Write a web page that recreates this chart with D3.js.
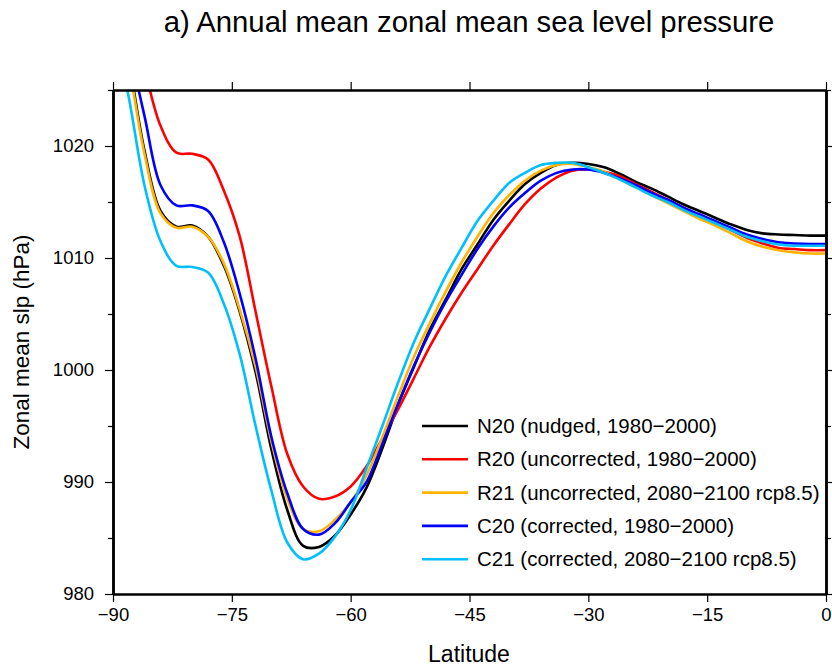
<!DOCTYPE html>
<html>
<head>
<meta charset="utf-8">
<script src="https://cdn.jsdelivr.net/npm/d3@7"></script>
<style>
  body { margin: 0; background: #fff; }
  text { font-family: "Liberation Sans", Arial, Helvetica, sans-serif; fill: #000; }
</style>
</head>
<body>
<svg id="chart" width="832" height="668"></svg>
<script>
// latitude grid (degrees)
var lats = d3.range(-90, 1, 2);

// zonal mean slp (hPa) per run
var n20 = [1034, 1027.5, 1019.5, 1014.2, 1012.8, 1012.9, 1011.9, 1009.3, 1005.2, 999.8,
  992.9, 987.5, 984.3, 984.2, 985.2, 987.1, 989.5, 993.0, 996.9, 1000.3,
  1003.6, 1006.3, 1009.0, 1011.2, 1013.4, 1015.1, 1016.6, 1017.6, 1018.3, 1018.5,
  1018.4, 1018.1, 1017.5, 1016.8, 1016.2, 1015.5, 1014.8, 1014.2, 1013.6, 1013.0,
  1012.5, 1012.2, 1012.1, 1012.05, 1012.0, 1012.0];
var r20 = [1040, 1032, 1026.8, 1021.8, 1019.4, 1019.3, 1018.8, 1016.0, 1011.9, 1005.2,
  998.5, 992.5, 989.6, 988.5, 988.7, 989.6, 991.4, 993.9, 996.5, 999.3,
  1002.1, 1004.6, 1006.9, 1009.0, 1011.1, 1013.0, 1014.8, 1016.2, 1017.2, 1017.8,
  1017.9, 1017.7, 1017.3, 1016.6, 1015.9, 1015.2, 1014.5, 1013.8, 1013.2, 1012.5,
  1011.8, 1011.3, 1010.9, 1010.8, 1010.7, 1010.7];
var r21 = [1034, 1027.2, 1019.2, 1014.0, 1012.7, 1012.8, 1011.9, 1009.5, 1005.4, 1000.3,
  993.6, 988.5, 985.8, 985.6, 986.6, 988.2, 990.6, 994.0, 997.7, 1001.2,
  1004.2, 1007.0, 1009.6, 1011.9, 1014.0, 1015.6, 1016.9, 1017.8, 1018.3, 1018.4,
  1018.1, 1017.7, 1017.0, 1016.3, 1015.6, 1014.9, 1014.2, 1013.5, 1012.9, 1012.2,
  1011.5, 1011.0, 1010.7, 1010.5, 1010.4, 1010.4];
var c20 = [1036, 1029, 1022.6, 1016.5, 1014.7, 1014.7, 1014.2, 1011.4, 1006.8, 1001.0,
  994.0, 989.0, 985.8, 985.3, 986.3, 988.2, 990.0, 993.4, 997.0, 1000.4,
  1003.4, 1006.1, 1008.5, 1010.8, 1012.8, 1014.5, 1015.8, 1016.9, 1017.6, 1017.9,
  1017.9, 1017.6, 1017.1, 1016.5, 1015.8, 1015.2, 1014.5, 1013.9, 1013.3, 1012.7,
  1012.1, 1011.7, 1011.4, 1011.3, 1011.25, 1011.25];
var c21 = [1031, 1024.3, 1016.4, 1011.5, 1009.3, 1009.2, 1008.7, 1005.9, 1001.4, 995.0,
  989.2, 984.6, 983.1, 983.6, 985.1, 987.5, 991.2, 995.0, 998.9, 1002.5,
  1005.5, 1008.4, 1010.9, 1013.3, 1015.1, 1016.7, 1017.6, 1018.3, 1018.5, 1018.5,
  1018.1, 1017.6, 1017.0, 1016.3, 1015.6, 1015.0, 1014.3, 1013.7, 1013.1, 1012.5,
  1011.9, 1011.5, 1011.2, 1011.1, 1011.1, 1011.1];

var seriesNames = ["N20 (nudged, 1980\u22122000)", "R20 (uncorrected, 1980\u22122000)",
  "R21 (uncorrected, 2080\u22122100 rcp8.5)", "C20 (corrected, 1980\u22122000)",
  "C21 (corrected, 2080\u22122100 rcp8.5)"];
var seriesColors = ["#000000", "#ff0000", "#ffb400", "#0000ff", "#00bfff"];
var seriesValues = [n20, r20, r21, c20, c21];

var xTicks = [-90, -75, -60, -45, -30, -15, 0];
var yTicks = [980, 990, 1000, 1010, 1020];
var yMinor = [985, 995, 1005, 1015, 1025];

var pLeft = 113, pRight = 826, pTop = 90, pBottom = 594;

var svg = d3.select("#chart");

var x = d3.scaleLinear().domain([-90, 0]).range([pLeft, pRight]);
var y = d3.scaleLinear().domain([980, 1025]).range([pBottom, pTop]);

var fmt = function(d) { return d < 0 ? "\u2212" + Math.abs(d) : String(d); };

svg.append("defs").append("clipPath").attr("id", "clip")
  .append("rect").attr("x", pLeft).attr("y", pTop)
  .attr("width", pRight - pLeft).attr("height", pBottom - pTop);

// lines
var line = d3.line()
  .x(function(d) { return x(d[0]); })
  .y(function(d) { return y(d[1]); })
  .curve(d3.curveCatmullRom.alpha(0.5));

var lines = svg.append("g").attr("clip-path", "url(#clip)");
seriesValues.forEach(function(vals, i) {
  lines.append("path")
    .datum(lats.map(function(l, j) { return [l, vals[j]]; }))
    .attr("fill", "none")
    .attr("stroke", seriesColors[i])
    .attr("stroke-width", 2.6)
    .attr("stroke-linejoin", "round")
    .attr("d", line);
});

// axes
function styleAxis(g) {
  g.select(".domain").attr("stroke-width", 2.5).attr("stroke", "#000");
  g.selectAll(".tick line").attr("stroke-width", 1.2).attr("stroke", "#000");
  g.selectAll(".tick text").style("font-size", "18.5px");
}

svg.append("g").attr("transform", "translate(0," + pBottom + ")")
  .call(d3.axisBottom(x).tickValues(xTicks).tickFormat(fmt).tickSize(8).tickSizeOuter(0).tickPadding(6))
  .call(styleAxis);
svg.append("g").attr("transform", "translate(0," + pTop + ")")
  .call(d3.axisTop(x).tickValues(xTicks).tickFormat("").tickSize(8).tickSizeOuter(0))
  .call(styleAxis);
svg.append("g").attr("transform", "translate(" + pLeft + ",0)")
  .call(d3.axisLeft(y).tickValues(yTicks).tickFormat(d3.format("d")).tickSize(8).tickSizeOuter(0).tickPadding(11))
  .call(styleAxis);
svg.append("g").attr("transform", "translate(" + pLeft + ",0)")
  .call(d3.axisLeft(y).tickValues(yMinor).tickFormat("").tickSize(5).tickSizeOuter(0))
  .call(styleAxis);
svg.append("g").attr("transform", "translate(" + pRight + ",0)")
  .call(d3.axisRight(y).tickValues(yTicks).tickFormat("").tickSize(8).tickSizeOuter(0))
  .call(styleAxis);
svg.append("g").attr("transform", "translate(" + pRight + ",0)")
  .call(d3.axisRight(y).tickValues(yMinor).tickFormat("").tickSize(5).tickSizeOuter(0))
  .call(styleAxis);

// titles
svg.append("text").attr("x", 469).attr("y", 32).attr("text-anchor", "middle")
  .style("font-size", "29.3px").text("a) Annual mean zonal mean sea level pressure");
svg.append("text").attr("x", 469).attr("y", 662).attr("text-anchor", "middle")
  .style("font-size", "23px").text("Latitude");
svg.append("text").attr("transform", "translate(29," + ((pTop + pBottom) / 2) + ") rotate(-90)")
  .attr("text-anchor", "middle").style("font-size", "22.5px").text("Zonal mean slp (hPa)");

// legend
var legend = svg.append("g").attr("transform", "translate(422,426)");
seriesNames.forEach(function(name, i) {
  var row = legend.append("g").attr("transform", "translate(0," + (i * 33.3) + ")");
  row.append("line").attr("x1", 0).attr("x2", 46).attr("y1", 0).attr("y2", 0)
    .attr("stroke", seriesColors[i]).attr("stroke-width", 2.6);
  row.append("text").attr("x", 55).attr("y", 7).style("font-size", "20.5px").text(name);
});
</script>
</body>
</html>
